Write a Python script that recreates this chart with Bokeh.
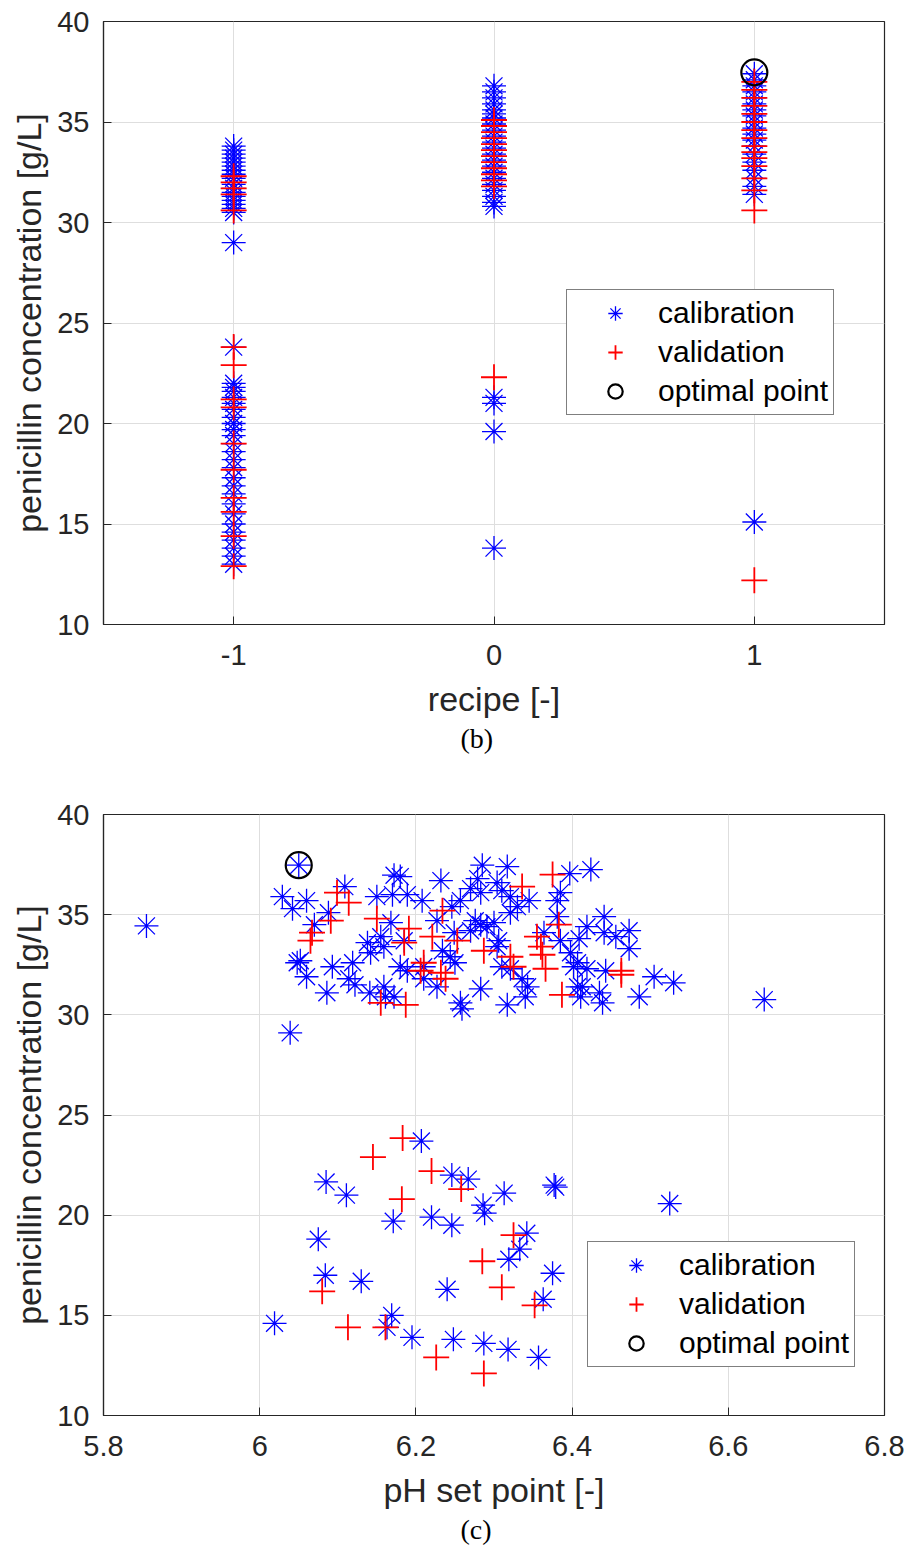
from bokeh.plotting import figure
from bokeh.models import Legend, LegendItem, FixedTicker, Title
from bokeh.layouts import column
from bokeh.embed import file_html
from bokeh.resources import INLINE

# ---------------- panel (b): recipe ----------------
b_recipe_levels = [-1, 0, 1]
b_cal_m1 = [33.8, 33.6, 33.4, 33.2, 33.0, 32.8, 32.6, 32.4, 32.2, 31.9, 31.7, 31.5, 31.3, 31.1,
            30.9, 30.7, 30.5, 29.0,
            23.8, 22.0, 21.8, 21.6, 21.3, 21.0, 20.7, 20.3, 20.0, 19.7, 19.4, 19.0, 18.6, 18.2,
            17.8, 17.3, 16.9, 16.5, 16.0, 15.5, 15.0, 14.6, 14.2, 13.8, 13.4, 13.0]
b_cal_0 = [36.8, 36.5, 36.2, 35.9, 35.6, 35.4, 35.2, 34.9, 34.6, 34.3, 34.0, 33.7, 33.4, 33.1,
           32.8, 32.5, 32.2, 31.9, 31.6, 31.3, 31.0, 30.8, 21.3, 21.0, 19.6, 13.8]
b_cal_p1 = [37.4, 37.1, 36.8, 36.5, 36.2, 35.9, 35.6, 35.3, 35.0, 34.7, 34.4, 34.1, 33.8, 33.4,
            33.0, 32.6, 32.2, 31.8, 31.4, 15.1]
b_val_m1 = [32.3, 32.0, 31.7, 31.4, 30.6, 23.8, 22.9, 21.2, 20.8, 19.0, 17.7, 16.3, 15.6, 14.4, 12.9]
b_val_0 = [35.1, 34.8, 34.5, 34.2, 33.9, 33.6, 33.3, 33.0, 32.7, 32.4, 32.1, 31.8, 22.3]
b_val_p1 = [37.0, 36.6, 36.2, 35.8, 35.4, 35.0, 34.6, 34.2, 33.8, 33.5, 33.2, 32.8, 32.2, 31.6,
            30.6, 12.2]
opt_recipe = [1]
opt_conc = [37.47]

# ---------------- panel (c): pH set point ----------------
c_cal_ph = [5.855, 6.05, 6.029, 6.042, 6.06, 6.088, 6.109, 6.07, 6.052, 6.048, 6.06, 6.093, 6.119,
            6.114, 6.122, 6.086, 6.141, 6.039, 6.15, 6.138, 6.142,
            6.285, 6.317, 6.424, 6.397, 6.18, 6.172, 6.232, 6.279, 6.304, 6.385, 6.381, 6.208, 6.17,
            6.189, 6.31, 6.257, 6.246, 6.27, 6.345, 6.33, 6.321, 6.276, 6.283, 6.291, 6.3, 6.27,
            6.304, 6.306, 6.249, 6.244, 6.25, 6.234, 6.168, 6.155, 6.159, 6.18, 6.189, 6.172, 6.159,
            6.227, 6.21, 6.257, 6.259, 6.283, 6.317, 6.34, 6.343, 6.31, 6.321, 6.336, 6.364, 6.381,
            6.385, 6.398, 6.409, 6.419, 6.441, 6.441, 6.456, 6.473, 6.473, 6.407, 6.402, 6.419,
            6.443, 6.407, 6.413, 6.435, 6.411, 6.439, 6.486, 6.161, 6.283, 6.321, 6.227, 6.185,
            6.21, 6.505, 6.53, 6.646,
            6.207, 6.085, 6.111, 6.246, 6.267, 6.313, 6.377, 6.379, 6.286, 6.288, 6.171, 6.22,
            6.246, 6.075, 6.342, 6.333, 6.319, 6.375, 6.084, 6.13, 6.24, 6.363, 6.019, 6.169,
            6.163, 6.195, 6.248, 6.287, 6.318, 6.357, 6.525]
c_cal_conc = [34.44, 37.47, 35.9, 35.3, 35.7, 35.1, 36.4, 34.5, 32.7, 32.6, 31.9, 32.4, 32.6,
              31.8, 31.5, 31.1, 31.1, 29.1, 35.9, 33.6, 33.1,
              37.47, 37.4, 37.25, 37.05, 36.9, 36.97, 36.7, 36.8, 36.6, 36.1, 35.7, 35.7, 36.0,
              36.0, 36.2, 35.7, 35.4, 36.3, 35.7, 35.4, 35.1, 34.7, 34.5, 34.4, 34.6, 34.2,
              33.4, 33.7, 34.1, 32.9, 32.6, 33.2, 34.6, 33.9, 33.4, 32.4, 32.2, 30.9, 31.4,
              31.4, 31.8, 30.6, 30.3, 31.3, 30.5, 30.9, 31.4, 32.4, 32.3, 31.8, 34.1, 34.9,
              33.7, 33.1, 33.8, 34.4, 34.9, 34.1, 33.9, 34.2, 33.3, 32.6, 32.4, 32.3,
              32.2, 31.4, 31.4, 31.1, 30.9, 30.6, 30.9, 30.9, 36.1, 35.9, 34.7, 33.7,
              32.4, 31.9, 31.6, 30.76,
              23.7, 21.66, 21.0, 22.0, 21.8, 21.1, 21.5, 21.4, 20.5, 20.1, 19.7, 19.9,
              19.5, 18.8, 19.1, 18.3, 17.8, 17.1, 17.0, 16.7, 16.3, 15.8, 14.6, 15.0,
              14.4, 13.9, 13.8, 13.6, 13.3, 12.9, 20.58]
c_val_ph = [6.099, 6.114, 6.091, 6.067, 6.065,
            6.375, 6.336, 6.234, 6.15, 6.191, 6.221, 6.185, 6.253, 6.287, 6.321, 6.355, 6.36,
            6.362, 6.383, 6.366, 6.325, 6.463, 6.463, 6.206, 6.232, 6.238, 6.155, 6.187, 6.387,
            6.21,
            6.183, 6.145, 6.22, 6.258, 6.182, 6.325, 6.285, 6.31, 6.352, 6.08, 6.113, 6.161,
            6.226, 6.287]
c_val_conc = [36.1, 35.6, 34.7, 34.1, 33.7,
              37.0, 36.4, 35.2, 34.8, 34.3, 33.9, 33.6, 33.7, 33.2, 32.9, 33.9, 33.4,
              33.0, 34.5, 32.3, 32.4, 32.2, 32.0, 32.2, 32.1, 31.8, 30.6, 30.5, 31.0,
              32.6,
              23.85, 22.9, 22.2, 21.3, 20.8, 19.0, 17.7, 16.4, 15.5, 16.2, 14.4, 14.4,
              12.9, 12.1]
opt_ph = [6.05]

y_ticks = [10, 15, 20, 25, 30, 35, 40]
b_ticks = [-1, 0, 1]
c_ticks = [5.8, 6.0, 6.2, 6.4, 6.6, 6.8]
c_tick_labels = ["5.8", "6", "6.2", "6.4", "6.6", "6.8"]

AX = "#262626"
FONT = "Liberation Sans"


def make_panel(xr, xticks, xlabels, xlabel, caption, cal_x, cal_y, val_x, val_y, ox, oy,
               legend_loc, border_bottom, frame_h):
    p = figure(frame_width=781, frame_height=frame_h, x_range=xr, y_range=(10, 40),
               output_backend="svg", toolbar_location=None,
               min_border_left=103, min_border_right=25, min_border_top=21,
               min_border_bottom=border_bottom)
    p.background_fill_color = "white"
    p.border_fill_color = "white"
    p.outline_line_color = AX
    p.outline_line_width = 1.2
    p.outline_line_alpha = 1

    p.xaxis.ticker = FixedTicker(ticks=xticks)
    p.xaxis.major_label_overrides = {t: l for t, l in zip(xticks, xlabels)}
    p.yaxis.ticker = FixedTicker(ticks=y_ticks)
    p.xaxis.axis_label = xlabel
    p.yaxis.axis_label = "penicillin concentration [g/L]"
    for ax in (p.xaxis, p.yaxis):
        ax.major_tick_in = 8
        ax.major_tick_out = 0
        ax.minor_tick_line_color = None
        ax.axis_line_color = AX
        ax.axis_line_width = 1.2
        ax.major_tick_line_color = AX
        ax.major_label_text_font = FONT
        ax.major_label_text_font_size = "29px"
        ax.major_label_text_color = AX
        ax.axis_label_text_font = FONT
        ax.axis_label_text_font_size = "34px"
        ax.axis_label_text_font_style = "normal"
        ax.axis_label_text_color = AX
    p.xaxis.major_label_standoff = 20
    p.yaxis.major_label_standoff = 14
    p.xaxis.axis_label_standoff = 12
    p.yaxis.axis_label_standoff = 6
    p.grid.grid_line_color = "#dedede"
    p.grid.grid_line_width = 1

    r_cal = p.scatter(cal_x, cal_y, marker="asterisk", size=24, line_color="#0000ff",
                      line_width=1.3)
    r_val = p.scatter(val_x, val_y, marker="cross", size=26, line_color="#ff0000",
                      line_width=1.8)
    r_opt = p.scatter(ox, oy, marker="circle", size=26, fill_color=None,
                      line_color="black", line_width=2.2)

    legend = Legend(items=[LegendItem(label="calibration", renderers=[r_cal]),
                           LegendItem(label="validation", renderers=[r_val]),
                           LegendItem(label="optimal point", renderers=[r_opt])],
                    location=legend_loc, margin=0, padding=5, spacing=3,
                    glyph_width=86, glyph_height=36, label_height=36, label_standoff=0,
                    label_text_font=FONT, label_text_font_size="30px",
                    label_text_color="black", border_line_color="black",
                    border_line_width=1, background_fill_color="white",
                    background_fill_alpha=1)
    p.add_layout(legend)
    p.add_layout(Title(text=caption, align="left", offset=357, standoff=0,
                       text_font="Liberation Serif", text_font_size="28px",
                       text_font_style="normal", text_color="black"), "below")
    return p


b_cal_x = [-1] * len(b_cal_m1) + [0] * len(b_cal_0) + [1] * len(b_cal_p1)
b_cal_y = b_cal_m1 + b_cal_0 + b_cal_p1
b_val_x = [-1] * len(b_val_m1) + [0] * len(b_val_0) + [1] * len(b_val_p1)
b_val_y = b_val_m1 + b_val_0 + b_val_p1

p1 = make_panel((-1.5, 1.5), b_ticks, ["-1", "0", "1"], "recipe [-]", "(b)",
                b_cal_x, b_cal_y, b_val_x, b_val_y, opt_recipe, opt_conc, (463, 209), 169, 603)
p2 = make_panel((5.8, 6.8), c_ticks, c_tick_labels, "pH set point [-]", "(c)",
                c_cal_ph, c_cal_conc, c_val_ph, c_val_conc, opt_ph, opt_conc, (484, 48), 135, 601)

layout = column(p1, p2, spacing=0)
open("out.html", "w").write(file_html(layout, INLINE))
